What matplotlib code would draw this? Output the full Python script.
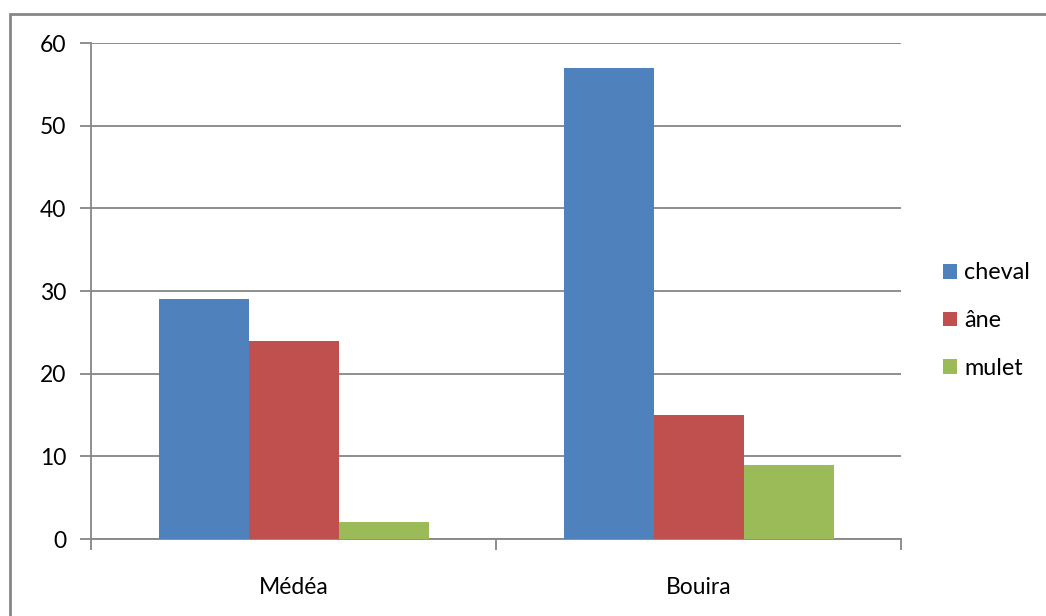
import matplotlib
matplotlib.use("Agg")
import matplotlib.pyplot as plt
import numpy as np
from matplotlib.patches import Rectangle

plt.rcParams["font.family"] = ["Lato", "DejaVu Sans"]

regions = ["Médéa", "Bouira"]
series = ["cheval", "âne", "mulet"]
cheval = [29, 57]
ane = [24, 15]
mulet = [2, 9]
colors = ["#4F81BD", "#C0504D", "#9BBB59"]
grid_col = "#868686"

fig = plt.figure(figsize=(10.46, 6.16), dpi=100)
ax = fig.add_axes([91 / 1046, 1 - 539 / 616, 810 / 1046, 496 / 616])

# frame around the chart area
fig.add_artist(Rectangle((10 / 1046, -0.1), 1.2, 1 - 13.5 / 616 + 0.1,
                         transform=fig.transFigure, fill=False,
                         edgecolor=grid_col, linewidth=2))

x = np.arange(len(regions))
width = 1 / 4.5
for i, (vals, name) in enumerate(zip([cheval, ane, mulet], series)):
    ax.bar(x + (i - 1) * width, vals, width, color=colors[i], label=name,
           zorder=3, linewidth=0)

ax.set_xlim(-0.5, len(regions) - 0.5)
ax.set_ylim(0, 60)
ax.set_yticks(range(0, 61, 10))
ax.yaxis.grid(True, color=grid_col, linewidth=1.3, zorder=0)
ax.set_axisbelow(True)

ax.set_xticks(x)
ax.set_xticklabels(regions, fontsize=16.5)
ax.set_xticks([-0.5, 0.5, 1.5], minor=True)
ax.tick_params(axis="x", which="major", length=0, pad=27)
ax.tick_params(axis="x", which="minor", length=8, width=1.3, color=grid_col)
ax.tick_params(axis="y", length=8, width=1.3, color=grid_col, labelsize=16.5, pad=10)

for s in ("top", "right"):
    ax.spines[s].set_visible(False)
for s in ("left", "bottom"):
    ax.spines[s].set_color(grid_col)
    ax.spines[s].set_linewidth(1.3)

ax.legend(loc="center left", bbox_to_anchor=(1.026, 0.44), frameon=False,
          fontsize=16.8, handlelength=0.6, handleheight=0.6, handletextpad=0.3,
          labelspacing=1.15)

fig.savefig("out.png", dpi=100)
